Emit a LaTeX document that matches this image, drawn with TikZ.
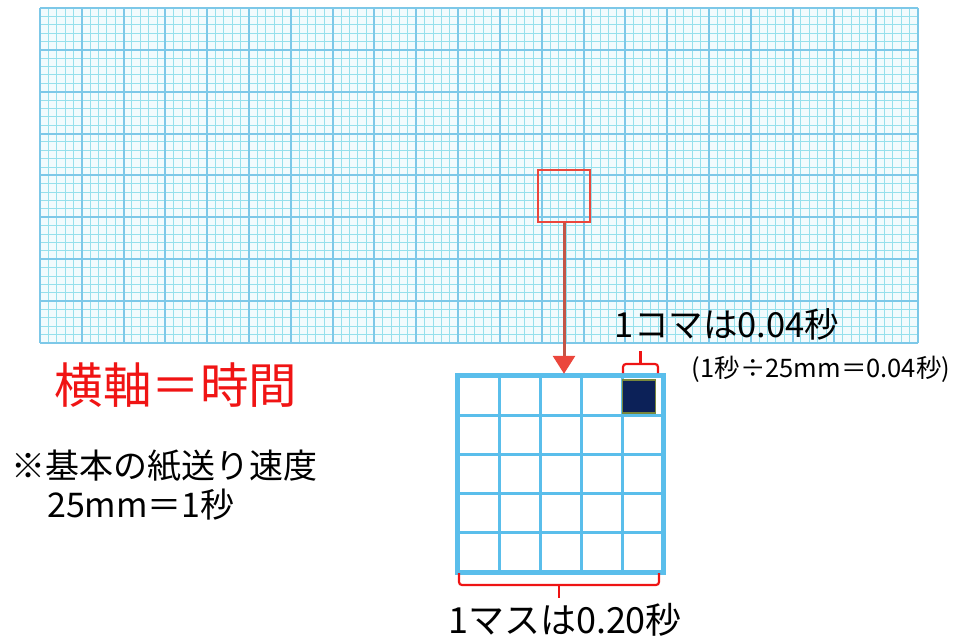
\documentclass[tikz,border=0pt]{standalone}
\usepackage{fontspec}
\setmainfont{Noto Sans CJK JP}
\usetikzlibrary{arrows.meta}
\definecolor{gridthin}{RGB}{150,224,236}
\definecolor{gridthick}{RGB}{125,200,232}
\definecolor{gridbg}{RGB}{242,251,253}
\definecolor{magline}{RGB}{90,190,235}
\definecolor{navy}{RGB}{12,33,88}
\definecolor{olive}{RGB}{120,135,60}
\definecolor{boxred}{RGB}{235,70,60}
\definecolor{shaftred}{RGB}{195,85,70}
\definecolor{brred}{RGB}{238,20,20}
\definecolor{txtred}{RGB}{240,20,20}
\tikzset{
  thingrid/.style={draw=gridthin, line width=1pt},
  thickgrid/.style={draw=gridthick, line width=2pt},
  bracket/.style={draw=brred, line width=2.2pt, rounded corners=3pt},
  label/.style={inner sep=0pt, anchor=center, text=black}
}
\begin{document}
\begin{tikzpicture}[x=1pt,y=-1pt]
\useasboundingbox (0,0) rectangle (957,644);
% paper grid
\fill[gridbg] (40,8) rectangle (918,343);
\foreach \i in {0,...,105} {
  \draw[thingrid] ({40+\i*8.3619},8) -- ++(0,335);
}
\foreach \j in {0,...,40} {
  \draw[thingrid] (40,{8+\j*8.375}) -- ++(878,0);
}
\foreach \i in {0,...,21} {
  \draw[thickgrid] ({40+\i*41.8095},8) -- ++(0,335);
}
\foreach \j in {0,...,8} {
  \draw[thickgrid] (40,{8+\j*41.875}) -- ++(878,0);
}
% red zoom box
\node[draw=boxred, line width=1.8pt, minimum width=52pt, minimum height=52pt, inner sep=0pt] (zoombox) at (564,196) {};
% magnified box
\node[fill=white, minimum width=205pt, minimum height=196pt, inner sep=0pt] (mag) at (560.5,474) {};
\foreach \k in {1,...,4} {
  \draw[draw=magline, line width=3pt] ({458+\k*41},376) -- ({458+\k*41},572);
  \draw[draw=magline, line width=3pt] (458,{376+\k*39.2}) -- (663,{376+\k*39.2});
}
\node[fill=navy, draw=olive, line width=1.2pt, minimum width=33pt, minimum height=33pt, inner sep=0pt] (cell) at (639,396.5) {};
\draw[draw=magline, line width=5pt] (mag.south west) rectangle (mag.north east);
% arrow
\draw[draw=shaftred, line width=3pt, -{Triangle[width=22pt,length=18pt,color=boxred]}, shorten >=2pt] (zoombox.south) -- (mag.north -| zoombox.south);
% brackets
\coordinate (tb1) at (623,373);
\coordinate (tb2) at (658,373);
\coordinate (tbt) at (640.5,351);
\draw[bracket] (tb1) |- (tbt |- 0,364) -| (tb2);
\draw[bracket] (tbt |- 0,364) -- (tbt);
\coordinate (bb1) at (459,573);
\coordinate (bb2) at (659,573);
\coordinate (bbt) at (559,598);
\draw[bracket] (bb1) |- (bbt |- 0,585) -| (bb2);
\draw[bracket] (bbt |- 0,585) -- (bbt);
% texts
\node[label, font=\fontsize{34.5}{36}\selectfont] (koma) at (727,324) {1コマは0.04秒};
\node[label, font=\fontsize{25.5}{27}\selectfont] (calc) at (821,369) {(1秒÷25mm＝0.04秒)};
\node[label, text=txtred, font=\fontsize{48.5}{50}\selectfont] (axis) at (176,385) {横軸＝時間};
\node[label, anchor=west, font=\fontsize{34}{36}\selectfont] (note1) at (11,466) {※基本の紙送り速度};
\node[label, anchor=west, font=\fontsize{34}{36}\selectfont] (note2) at (47,505) {25mm＝1秒};
\node[label, font=\fontsize{36}{38}\selectfont] (masu) at (565,620) {1マスは0.20秒};
\end{tikzpicture}
\end{document}
